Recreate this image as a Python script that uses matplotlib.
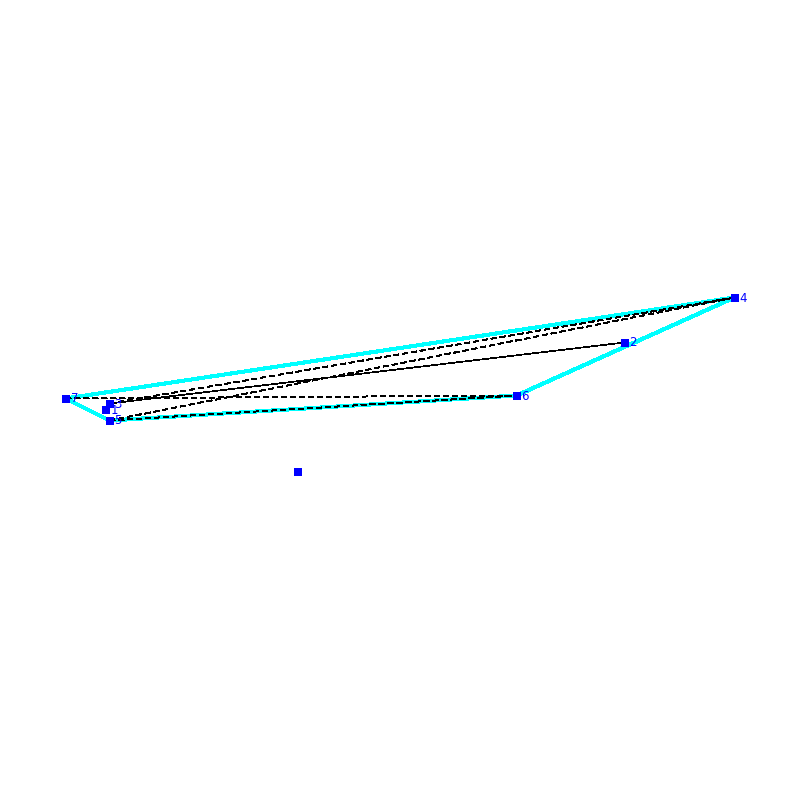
"""
Convex hull with triangulation edges, drawn in pixel-like coordinates
"""
import matplotlib
matplotlib.use('Agg')
import matplotlib.pyplot as plt

# point positions (index is the label)
xs = [297, 105, 624, 109, 734, 109, 516, 65]
ys = [471, 409, 342, 403, 297, 420, 395, 398]
labels = ['', '1', '2', '3', '4', '5', '6', '7']

hull = [7, 4, 6, 5, 7]
solid_edges = [(3, 2)]
dashed_edges = [(3, 4), (5, 4), (7, 6), (5, 6)]

fig = plt.figure(figsize=(8, 8), dpi=100)
ax = fig.add_axes([0, 0, 1, 1])
# half pixel shift so that points land on pixel centres
ax.set_xlim(-0.5, 799.5)
ax.set_ylim(799.5, -0.5)
ax.axis('off')

ax.plot([xs[i] for i in hull], [ys[i] for i in hull], color='#00ffff', lw=2.2,
        antialiased=False, zorder=1)

# thin lines, dash pattern given in points so it does not shrink with the width
for a, b in dashed_edges:
    line, = ax.plot([xs[a], xs[b]], [ys[a], ys[b]], color='black', lw=0.5,
                    antialiased=False, zorder=2)
    line.set_dashes([7.2, 4.4])
for a, b in solid_edges:
    ax.plot([xs[a], xs[b]], [ys[a], ys[b]], color='black', lw=0.5,
            antialiased=False, zorder=2)

ax.plot(xs, ys, 's', color='#0000ff', ms=5.3, mew=0, antialiased=False, zorder=3)

for x, y, lab in zip(xs, ys, labels):
    ax.text(x + 5, y + 0.5, lab, color='#0000ff', fontsize=8.5, va='center', ha='left', zorder=4)

fig.savefig('out.png', dpi=100)
